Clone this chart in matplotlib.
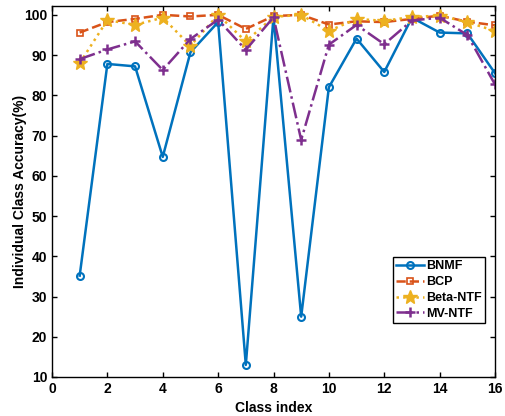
import matplotlib.pyplot as plt

plt.rcParams['font.family'] = ['Liberation Sans', 'DejaVu Sans']
plt.rcParams['font.weight'] = 'bold'

classes = list(range(1, 17))
bnmf = [35.2, 87.8, 87.2, 64.7, 90.7, 98.2, 13.0, 99.5, 25.0, 82.0, 94.1, 85.8, 99.3, 95.6, 95.4, 85.5]
bcp = [95.6, 98.2, 99.0, 100.0, 99.6, 100.0, 96.5, 99.7, 100.0, 97.6, 98.4, 98.2, 99.0, 99.8, 98.3, 97.4]
beta_ntf = [88.0, 98.7, 97.5, 99.3, 92.3, 100.0, 93.4, 99.5, 100.0, 96.0, 99.0, 98.5, 99.5, 99.8, 98.2, 96.0]
mv_ntf = [89.0, 91.4, 93.4, 86.3, 94.0, 98.8, 91.3, 99.4, 68.9, 92.6, 97.5, 92.7, 98.6, 99.3, 95.0, 82.7]

fig = plt.figure(figsize=(5.05, 4.16), dpi=100)
ax = fig.add_axes([52 / 505, 39 / 416, 443 / 505, 371 / 416])

ax.plot(classes, bnmf, color='#0072BD', linestyle='-', linewidth=1.8, marker='o',
        markersize=5, markerfacecolor='none', markeredgewidth=1.5, label='BNMF')
ax.plot(classes, bcp, color='#D95319', linestyle='--', linewidth=1.8, marker='s',
        markersize=5, markerfacecolor='none', markeredgewidth=1.2, label='BCP')
ax.plot(classes, beta_ntf, color='#EDB120', linestyle=':', linewidth=1.8, marker='*',
        markersize=10, label='Beta-NTF')
ax.plot(classes, mv_ntf, color='#7E2F8E', linestyle='-.', linewidth=1.8, marker='+',
        markersize=7, markeredgewidth=1.8, label='MV-NTF')

ax.set_xlim(0, 16)
ax.set_ylim(10, 102.2)
ax.set_xticks(range(0, 17, 2))
ax.set_yticks(range(10, 101, 10))
ax.tick_params(direction='in', top=True, right=True, labelsize=10, width=1)
for s in ax.spines.values():
    s.set_linewidth(1)
ax.set_xlabel('Class index', fontsize=10, fontweight='bold', labelpad=4)
ax.set_ylabel('Individual Class Accuracy(%)', fontsize=10, fontweight='bold', labelpad=-2)
ax.legend(loc='lower right', bbox_to_anchor=(0.977, 0.146), fancybox=False,
          edgecolor='black', framealpha=1, fontsize=9, handlelength=2.2,
          borderpad=0.25, labelspacing=0.3, handletextpad=0.2, borderaxespad=0)

fig.savefig('out.png', dpi=100)
